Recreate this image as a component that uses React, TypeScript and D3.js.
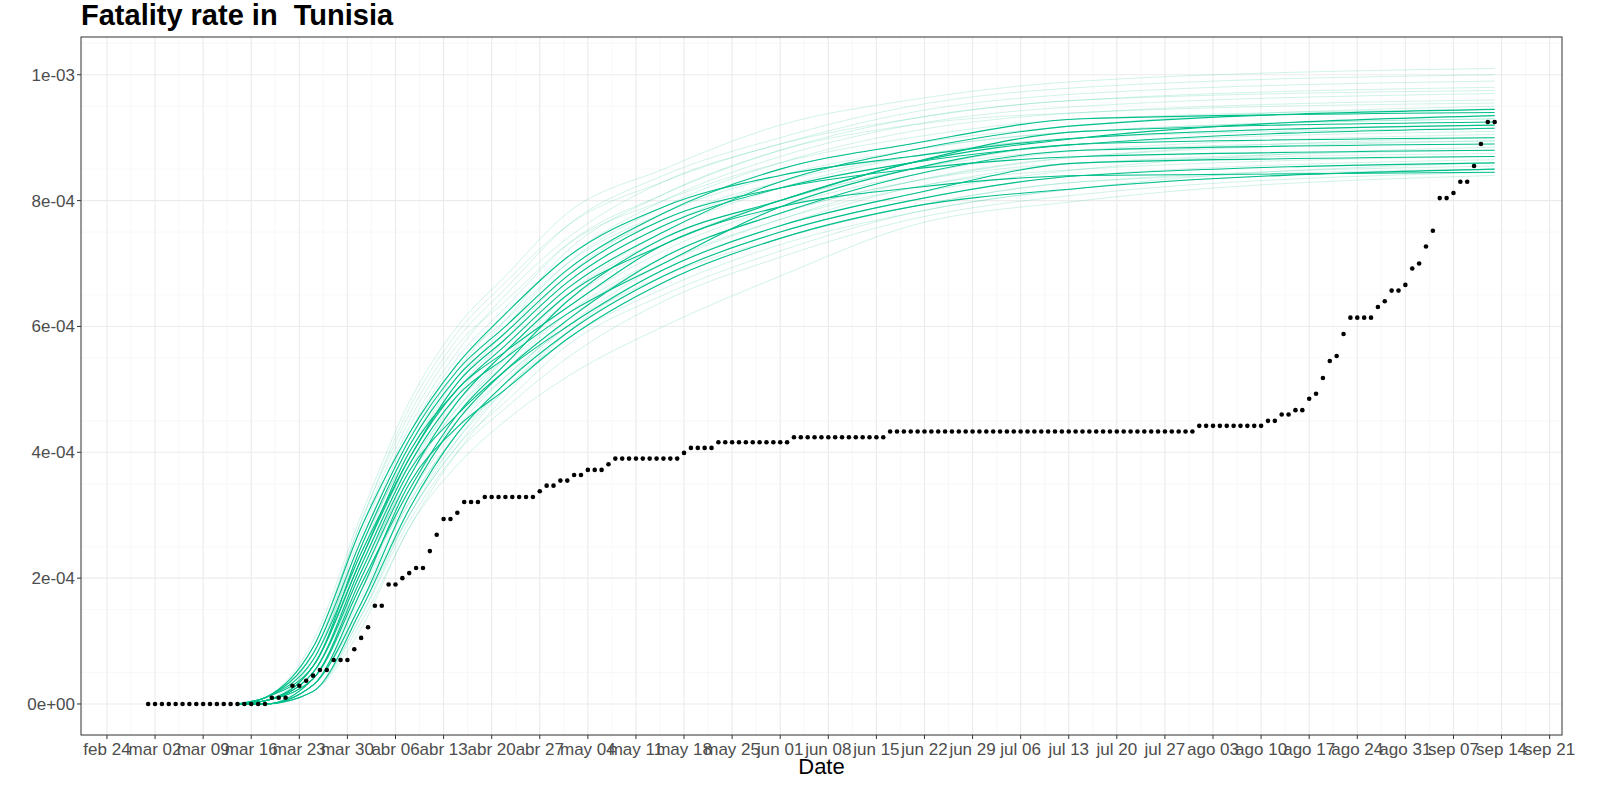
import React, { useRef, useEffect } from "react";
import * as d3 from "d3";

// days counted from feb 24 2020
const tickLabels = ["feb 24","mar 02","mar 09","mar 16","mar 23","mar 30","abr 06","abr 13","abr 20","abr 27","may 04","may 11","may 18","may 25","jun 01","jun 08","jun 15","jun 22","jun 29","jul 06","jul 13","jul 20","jul 27","ago 03","ago 10","ago 17","ago 24","ago 31","sep 07","sep 14","sep 21"];
const yTicks = [0, 2e-4, 4e-4, 6e-4, 8e-4, 1e-3];
const yLabels = ["0e+00","2e-04","4e-04","6e-04","8e-04","1e-03"];

// observed fatality rate (x1e-4), run-length pairs [value, days], starting mar 01
const observedRuns: [number, number][] = [
  [0, 18],[0.1, 3],[0.29, 2],[0.37, 1],[0.45, 1],[0.54, 2],[0.7, 3],[0.87, 1],[1.05, 1],[1.22, 1],
  [1.56, 2],[1.9, 2],[2.0, 1],[2.08, 1],[2.16, 2],[2.43, 1],[2.69, 1],[2.94, 2],[3.04, 1],[3.21, 3],
  [3.29, 8],[3.38, 1],[3.47, 2],[3.55, 2],[3.64, 2],[3.72, 3],[3.81, 1],[3.9, 10],[3.99, 1],[4.07, 4],
  [4.16, 11],[4.24, 14],[4.33, 45],[4.42, 10],[4.5, 2],[4.6, 2],[4.67, 2],[4.85, 1],[4.93, 1],[5.18, 1],
  [5.45, 1],[5.53, 1],[5.88, 1],[6.14, 4],[6.31, 1],[6.4, 1],[6.57, 2],[6.66, 1],[6.92, 1],[7.0, 1],
  [7.27, 1],[7.52, 1],[8.04, 2],[8.12, 1],[8.3, 2],[8.55, 1],[8.9, 1],[9.25, 2],
];
const observedStart = 6;

// simulated trajectories (x1e-4) at these days
const simDays = [19, 23, 30, 37, 44, 51, 58, 67, 81, 98, 117, 142, 202];
const boldSims = [
  [0,0.05,0.6,2.3,4.0,5.0,5.7,6.6,7.5,8.3,8.8,9.2,9.45],
  [0,0.1,0.8,2.6,4.2,5.3,6.0,6.9,7.8,8.5,8.9,9.3,9.4],
  [0,0.0,0.4,2.0,3.6,4.8,5.6,6.5,7.3,8.0,8.6,9.1,9.25],
  [0,0.1,0.7,2.4,3.9,5.1,5.8,6.7,7.6,8.2,8.6,8.9,9.15],
  [0,0.05,0.5,2.2,3.8,4.9,5.5,6.2,7.0,7.9,8.5,8.9,9.0],
  [0,0.0,0.3,1.6,3.3,4.5,5.3,6.1,7.1,7.8,8.4,8.8,8.9],
  [0,0.1,0.6,2.5,4.1,5.2,5.9,6.8,7.7,8.2,8.5,8.7,8.8],
  [0,0.05,0.5,2.1,3.7,4.6,5.3,6.0,6.9,7.6,8.1,8.6,8.7],
  [0,0.0,0.2,1.5,3.1,4.3,5.1,5.9,6.8,7.5,8.0,8.4,8.6],
  [0,0.05,0.6,2.3,3.9,5.0,5.6,6.3,7.3,7.9,8.2,8.4,8.45],
  [0,0.1,0.9,2.8,4.3,5.4,6.2,7.1,7.9,8.4,8.7,9.0,9.2],
  [0,0.0,0.3,1.8,3.5,4.4,5.0,5.8,6.7,7.4,7.9,8.2,8.5],
  [0,0.05,0.4,1.9,3.4,4.6,5.4,6.4,7.4,8.0,8.6,9.0,9.35],
];
const faintSims = [
  [0,0.1,1.0,3.0,4.8,6.0,6.8,7.8,8.5,9.2,9.6,9.9,10.1],
  [0,0.1,0.9,2.9,4.6,5.8,6.6,7.6,8.4,9.0,9.5,9.8,10.0],
  [0,0.05,0.8,2.7,4.4,5.6,6.5,7.4,8.3,8.9,9.4,9.7,9.9],
  [0,0.05,0.7,2.6,4.3,5.5,6.3,7.3,8.1,8.8,9.3,9.6,9.8],
  [0,0.1,0.6,2.4,4.1,5.3,6.2,7.1,8.0,8.7,9.2,9.5,9.7],
  [0,0.0,0.5,2.2,3.9,5.1,6.0,7.0,7.9,8.6,9.1,9.4,9.6],
  [0,0.05,0.6,2.5,4.0,5.2,6.1,7.2,8.1,8.8,9.2,9.4,9.55],
  [0,0.0,0.4,2.0,3.7,4.9,5.8,6.8,7.8,8.5,8.9,9.2,9.5],
  [0,0.05,0.5,2.3,3.9,5.0,5.8,6.7,7.6,8.3,8.8,9.1,9.3],
  [0,0.0,0.3,1.8,3.4,4.6,5.5,6.5,7.5,8.2,8.7,9.0,9.2],
  [0,0.05,0.4,2.1,3.6,4.7,5.5,6.4,7.3,8.0,8.5,8.9,9.1],
  [0,0.0,0.3,1.5,3.0,4.2,5.1,6.1,7.1,7.8,8.3,8.7,9.0],
  [0,0.05,0.5,2.2,3.7,4.8,5.6,6.5,7.4,8.0,8.5,8.8,8.95],
  [0,0.0,0.2,1.3,2.8,4.0,4.9,5.9,6.9,7.6,8.1,8.5,8.85],
  [0,0.05,0.4,1.9,3.4,4.5,5.3,6.2,7.1,7.8,8.3,8.6,8.75],
  [0,0.0,0.3,1.6,3.1,4.2,5.0,5.9,6.8,7.5,8.0,8.4,8.65],
  [0,0.0,0.2,1.2,2.8,3.8,4.5,5.2,6.0,6.8,7.6,8.0,8.4],
  [0,0.05,0.4,1.8,3.2,4.3,5.0,5.8,6.6,7.3,7.8,8.2,8.5],
  [0,0.0,0.2,1.4,2.9,4.0,4.7,5.5,6.4,7.1,7.7,8.1,8.45],
  [0,0.05,0.5,2.0,3.5,4.5,5.2,6.0,6.8,7.4,7.9,8.3,8.55],
  [0,0.1,0.8,2.8,4.5,5.7,6.4,7.3,8.0,8.6,9.0,9.3,9.45],
  [0,0.1,0.7,2.6,4.2,5.4,6.1,7.0,7.8,8.4,8.8,9.1,9.3],
  [0,0.0,0.3,1.7,3.2,4.3,5.1,6.0,7.0,7.7,8.2,8.6,8.8],
  [0,0.05,0.6,2.4,3.8,4.8,5.5,6.3,7.2,7.9,8.4,8.8,9.05],
  [0,0.0,0.4,1.9,3.3,4.4,5.2,6.0,6.9,7.6,8.2,8.5,8.7],
  [0,0.1,0.9,2.9,4.7,5.9,6.7,7.6,8.3,8.9,9.3,9.6,9.75],
  [0,0.05,0.5,2.1,3.6,4.7,5.4,6.2,7.0,7.7,8.3,8.7,8.95],
  [0,0.0,0.3,1.6,3.0,4.1,4.8,5.7,6.5,7.2,7.8,8.2,8.6],
  [0,0.05,0.7,2.5,4.0,5.1,5.9,6.9,7.7,8.3,8.7,9.0,9.15],
  [0,0.0,0.2,1.4,3.0,4.1,5.0,5.8,6.7,7.4,7.9,8.3,8.5],
];

const W = 1600, H = 800;
const panel = { left: 81, right: 1562, top: 37, bottom: 735 };
const GREEN = "#00BF8A";

const App: React.FC = () => {
  const svgRef = useRef<SVGSVGElement>(null);

  useEffect(() => {
    if (!svgRef.current) return;
    const svg = d3.select(svgRef.current);
    svg.selectAll("*").remove();

    const x = d3.scaleLinear().domain([-3.78, 211.8]).range([panel.left, panel.right]);
    const y = d3.scaleLinear().domain([-0.493e-4, 10.6e-4]).range([panel.bottom, panel.top]);

    svg.append("rect").attr("width", W).attr("height", H).attr("fill", "#fff");

    // grid
    const g = svg.append("g");
    const majorX = tickLabels.map((_, i) => i * 7);
    const minorX = d3.range(-3.5, 212, 7);
    const minorY = d3.range(-0.5e-4, 10.6e-4, 1e-4).filter((v) => !yTicks.some((t) => Math.abs(t - v) < 1e-9));
    g.selectAll(".mx").data(minorX).join("line")
      .attr("x1", (d) => x(d)).attr("x2", (d) => x(d)).attr("y1", panel.top).attr("y2", panel.bottom)
      .attr("stroke", "#f4f4f4").attr("stroke-width", 0.6);
    g.selectAll(".my").data(minorY).join("line")
      .attr("y1", (d) => y(d)).attr("y2", (d) => y(d)).attr("x1", panel.left).attr("x2", panel.right)
      .attr("stroke", "#f4f4f4").attr("stroke-width", 0.6);
    g.selectAll(".Mx").data(majorX).join("line")
      .attr("x1", (d) => x(d)).attr("x2", (d) => x(d)).attr("y1", panel.top).attr("y2", panel.bottom)
      .attr("stroke", "#ebebeb").attr("stroke-width", 1.1);
    g.selectAll(".My").data(yTicks).join("line")
      .attr("y1", (d) => y(d)).attr("y2", (d) => y(d)).attr("x1", panel.left).attr("x2", panel.right)
      .attr("stroke", "#ebebeb").attr("stroke-width", 1.1);

    // simulations
    const line = d3.line<number>()
      .x((_, i) => x(simDays[i]))
      .y((d) => y(d * 1e-4))
      .curve(d3.curveMonotoneX);
    svg.append("g").selectAll("path").data(faintSims).join("path")
      .attr("d", (d) => line(d)).attr("fill", "none")
      .attr("stroke", GREEN).attr("stroke-opacity", 0.18).attr("stroke-width", 1);
    svg.append("g").selectAll("path").data(boldSims).join("path")
      .attr("d", (d) => line(d)).attr("fill", "none")
      .attr("stroke", GREEN).attr("stroke-width", 1.1);

    // observed points
    const observed: number[] = [];
    observedRuns.forEach(([v, n]) => { for (let i = 0; i < n; i++) observed.push(v); });
    svg.append("g").selectAll("circle").data(observed).join("circle")
      .attr("cx", (_, i) => x(observedStart + i)).attr("cy", (d) => y(d * 1e-4))
      .attr("r", 2.3).attr("fill", "#000");

    // border
    svg.append("rect")
      .attr("x", panel.left).attr("y", panel.top)
      .attr("width", panel.right - panel.left).attr("height", panel.bottom - panel.top)
      .attr("fill", "none").attr("stroke", "#333").attr("stroke-width", 1);

    const font = "Liberation Sans, Arial, sans-serif";
    // y axis
    const ya = svg.append("g");
    ya.selectAll("line").data(yTicks).join("line")
      .attr("x1", panel.left - 4).attr("x2", panel.left).attr("y1", (d) => y(d)).attr("y2", (d) => y(d))
      .attr("stroke", "#333");
    ya.selectAll("text").data(yTicks).join("text")
      .attr("x", panel.left - 6).attr("y", (d) => y(d)).attr("dy", "0.35em")
      .attr("text-anchor", "end").attr("font-family", font).attr("font-size", 17).attr("fill", "#4d4d4d")
      .text((_, i) => yLabels[i]);
    // x axis
    const xa = svg.append("g");
    xa.selectAll("line").data(majorX).join("line")
      .attr("x1", (d) => x(d)).attr("x2", (d) => x(d)).attr("y1", panel.bottom).attr("y2", panel.bottom + 4)
      .attr("stroke", "#333");
    xa.selectAll("text").data(majorX).join("text")
      .attr("x", (d) => x(d)).attr("y", panel.bottom + 20)
      .attr("text-anchor", "middle").attr("font-family", font).attr("font-size", 17).attr("fill", "#4d4d4d")
      .text((_, i) => tickLabels[i]);

    svg.append("text").attr("x", (panel.left + panel.right) / 2).attr("y", 774)
      .attr("text-anchor", "middle").attr("font-family", font).attr("font-size", 22).text("Date");
    svg.append("text").attr("x", panel.left).attr("y", 25)
      .attr("font-family", font).attr("font-size", 29).attr("font-weight", "bold")
      .style("white-space", "pre").text("Fatality rate in  Tunisia");
  }, []);

  return <svg ref={svgRef} width={W} height={H} style={{ position: "absolute", left: 0, top: 0 }} />;
};

export default App;
